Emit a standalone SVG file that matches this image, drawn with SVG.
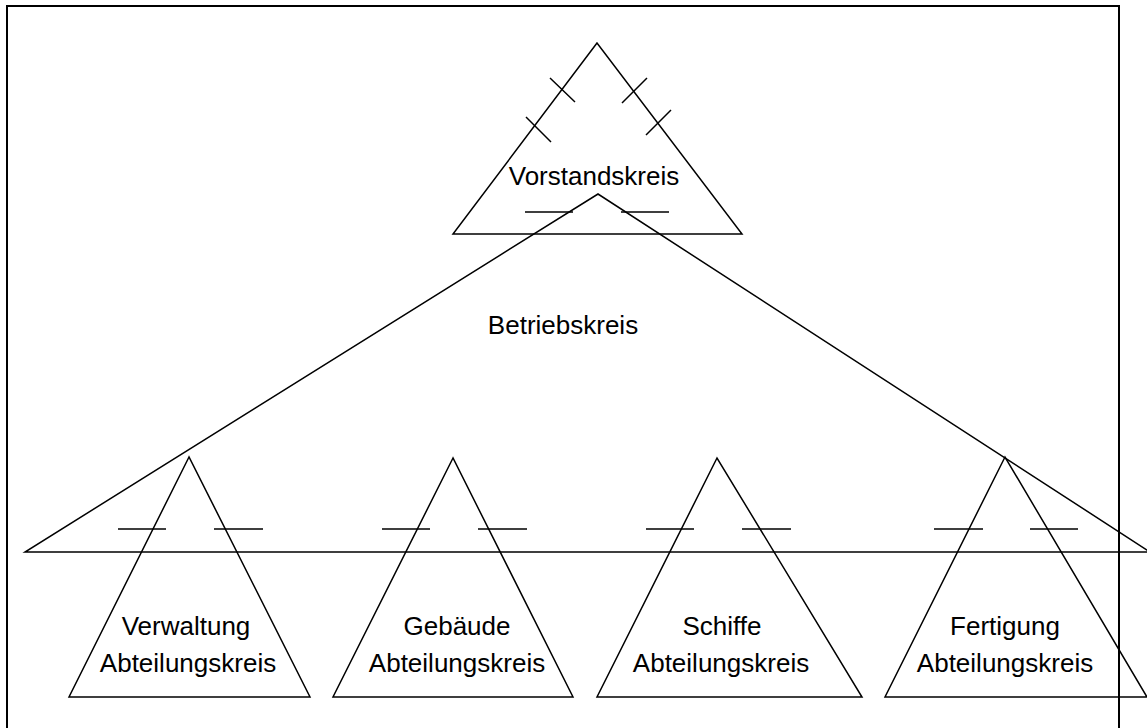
<svg xmlns="http://www.w3.org/2000/svg" width="1147" height="728" viewBox="0 0 1147 728">
<style>
.ln{fill:none;stroke:#000;stroke-width:1.5;stroke-linejoin:miter}
.tx{font-family:"Liberation Sans",Arial,sans-serif;font-size:26px;fill:#000;text-anchor:middle}
</style>
<rect x="0" y="0" width="1147" height="728" fill="#fff"/>
<g id="frame"><path d="M7,735 V6 H1119 V735" fill="none" stroke="#000" stroke-width="2"/></g>
<g id="betriebskreis">
<polygon class="ln" points="598,194 25,552 1150,552"/>
<text class="tx" x="563" y="334">Betriebskreis</text>
</g>
<g id="vorstandskreis">
<polygon class="ln" points="597,43 453,234 742,234"/>
<text class="tx" x="594" y="185">Vorstandskreis</text>
</g>
<g id="verwaltung">
<polygon class="ln" points="189,457 69,697 310,697"/>
<text class="tx" x="186" y="635">Verwaltung</text>
<text class="tx" x="188" y="672">Abteilungskreis</text>
</g>
<g id="gebaeude">
<polygon class="ln" points="453,458 333,697 573,697"/>
<text class="tx" x="457" y="635">Gebäude</text>
<text class="tx" x="457" y="672">Abteilungskreis</text>
</g>
<g id="schiffe">
<polygon class="ln" points="717,458 597,697 862,697"/>
<text class="tx" x="722" y="635">Schiffe</text>
<text class="tx" x="721" y="672">Abteilungskreis</text>
</g>
<g id="fertigung">
<polygon class="ln" points="1005,457 885,697 1147,697"/>
<text class="tx" x="1005" y="635">Fertigung</text>
<text class="tx" x="1005" y="672">Abteilungskreis</text>
</g>
<g id="connectors">
<path class="ln" d="M550,78 L575,102 M526,117 L551,142 M622,103 L647,78 M646,135 L671,110"/>
<path class="ln" d="M525,212 H573 M621,212 H669"/>
<path class="ln" d="M118,529 H166 M214,529 H263"/>
<path class="ln" d="M382,529 H430 M478,529 H527"/>
<path class="ln" d="M646,529 H694 M742,529 H791"/>
<path class="ln" d="M934,529 H983 M1030,529 H1078"/>
</g>
</svg>
